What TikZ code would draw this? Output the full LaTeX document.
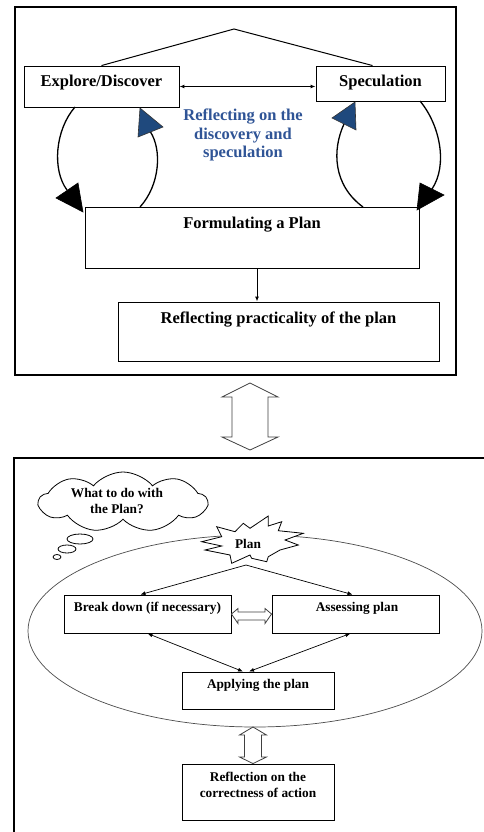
\documentclass[tikz,border=0pt]{standalone}
\usepackage{fontspec}
\setmainfont{Liberation Serif}
\usetikzlibrary{arrows.meta,shapes.symbols,calc}
\definecolor{refblue}{RGB}{47,84,150}
\definecolor{tipblue}{RGB}{31,73,125}
\newcommand\mytopfont{\fontsize{16.5}{18.5}\selectfont\bfseries}
\newcommand\mybotfont{\fontsize{13.3}{16}\selectfont\bfseries}
\begin{document}
\begin{tikzpicture}[x=1pt,y=-1pt,
 box/.style={draw, line width=0.9pt, inner sep=0pt},
 frameline/.style={line width=1.2pt},
 tt/.style={font=\mytopfont, inner sep=0pt, align=center},
 bt/.style={font=\mybotfont, inner sep=0pt, align=center},
 loopline/.style={line width=1.3pt},
 blackhead/.style={fill=black, draw=black, line width=0.6pt, line join=miter},
 bluehead/.style={fill=tipblue, draw=black!80, line width=0.6pt, line join=miter},
 thinline/.style={line width=0.7pt},
 smalltips/.style={{Latex[length=5pt,width=4pt]}-{Latex[length=5pt,width=4pt]}},
 smalltip/.style={-{Latex[length=5pt,width=4pt]}},
 hollow/.style={draw=black!75, line width=0.8pt, fill=white, line join=miter},
]
\useasboundingbox (0,0) rectangle (483,832);
\fill[white] (0,0) rectangle (483,832);

% ---------- top frame ----------
\draw[frameline] (15,7) rectangle (456,375);

\node[box, minimum width=155pt, minimum height=41pt] (explore) at (101.5,86.5) {};
\node[tt] (exploret) at (101.5,83) {Explore/Discover};
\node[box, minimum width=129pt, minimum height=35pt] (spec) at (380.5,83.5) {};
\node[tt] (spect) at (380.5,83) {Speculation};

\coordinate (apex) at (234,29);
\draw[line width=1pt] (explore.north) -- (apex) -- ([xshift=-8pt]spec.north);

\draw[line width=1pt, smalltips] (explore.east) -- (explore.east -| spec.west);

\node[tt, text=refblue] (refl) at (243,135) {Reflecting on the\\discovery and\\speculation};

\node[box, minimum width=334pt, minimum height=61pt] (form) at (252,237.5) {};
\node[tt] (formt) at (252,225) {Formulating a Plan};

\node[box, minimum width=321pt, minimum height=59pt] (prac) at (278.5,331.5) {};
\node[tt] (pract) at (278.5,320) {Reflecting practicality of the plan};

\draw[line width=1pt, smalltip] ([xshift=5pt]form.south) -- ([xshift=5pt]form.south |- prac.north);

% loops: curves ending at the base of large triangular heads
\coordinate (l1s) at (75,107);  \coordinate (l1e) at (67,190);
\coordinate (l2s) at (140,207); \coordinate (l2e) at (150.5,132);
\coordinate (r1s) at (363,207); \coordinate (r1e) at (344,124);
\coordinate (r2s) at (420,101); \coordinate (r2e) at (432,189);
\draw[loopline] (l1s) .. controls (55,130) and (52,170) .. (l1e);
\draw[loopline] (l2s) .. controls (160,185) and (162,150) .. (l2e);
\draw[loopline] (r1s) .. controls (333,185) and (332,150) .. (r1e);
\draw[loopline] (r2s) .. controls (440,125) and (448,165) .. (r2e);
\draw[blackhead] (83,212) -- (56,198) -- (78,183) -- cycle;
\draw[bluehead] (140,108) -- (138,137) -- (163,127) -- cycle;
\draw[bluehead] (355,102) -- (332,118) -- (356,130) -- cycle;
\draw[blackhead] (417,210) -- (420,183) -- (444,195) -- cycle;

% ---------- big hollow double arrow ----------
\draw[hollow] (250,383) -- (278,397) -- (268,397) -- (268,437) -- (278,437) -- (250,450)
  -- (222,437) -- (232,437) -- (232,397) -- (222,397) -- cycle;

% ---------- bottom frame ----------
\draw[frameline] (14,834) -- (14,458) -- (485,458);

\draw[thinline, draw=black!70] (255,631) ellipse [x radius=227, y radius=96];

% cloud
\node[cloud, draw, line width=0.8pt, cloud puffs=9, cloud puff arc=100, aspect=2.8,
  minimum width=168pt, minimum height=60pt, inner sep=0pt] (cloud) at (123,502) {};
\node[bt] (cloudt) at (117,501) {What to do with\\the Plan?};
\draw[line width=0.8pt] (80,539) ellipse [x radius=13, y radius=5];
\draw[line width=0.8pt] (67,549) ellipse [x radius=9, y radius=4];
\draw[line width=0.8pt] (57,557) ellipse [x radius=4, y radius=2.5];

% star
\draw[line width=0.8pt, fill=white] (216.7,526.7) -- (235,531.7) -- (243.3,523.3) -- (250,528.3)
  -- (268.3,516) -- (268.3,526) -- (281.7,521.7) -- (278.3,530.7) -- (303.3,533.3)
  -- (285,540) -- (298.3,545) -- (280,550) -- (268.3,556.7) -- (266.7,561.7)
  -- (251.7,558.3) -- (250,555) -- (231.7,563.3) -- (230,555) -- (205,550)
  -- (221.7,546) -- (201.7,541.7) -- (221.7,536.7) -- cycle;
\node[bt] (plan) at (248,544) {Plan};
\coordinate (starbot) at (246,565);

\node[box, minimum width=167pt, minimum height=38pt] (bd) at (147.5,614) {};
\node[bt] (bdt) at (147.5,608) {Break down (if necessary)};
\node[box, minimum width=167pt, minimum height=38pt] (as) at (355.5,614) {};
\node[bt] (ast) at (357,608) {Assessing plan};
\node[box, minimum width=152pt, minimum height=37pt] (ap) at (258,690.5) {};
\node[bt] (apt) at (258,685) {Applying the plan};
\node[box, minimum width=152pt, minimum height=56pt] (rc) at (258,792) {};
\node[bt] (rct) at (258,785) {Reflection on the\\correctness of action};

\draw[thinline, smalltip] (starbot) -- ([xshift=-7pt]bd.north);
\draw[thinline, smalltip] (starbot) -- ([xshift=-3pt]as.north);
\draw[thinline, smalltips] (bd.south) -- ([xshift=-15pt]ap.north);
\draw[thinline, smalltips] ([xshift=-5pt]as.south) -- ([xshift=-9pt]ap.north);

% small hollow double arrows
\draw[hollow] (bd.east) -- (238,608.5) -- (238,612) -- (265,612) -- (265,608.5) -- (as.west)
  -- (265,623.5) -- (265,620) -- (238,620) -- (238,623.5) -- cycle;
\draw[hollow] (253,727) -- (266.5,735) -- (261.5,735) -- (261.5,757) -- (266.5,757) -- (rc.north -| 253,0)
  -- (239.5,757) -- (244.5,757) -- (244.5,735) -- (239.5,735) -- cycle;
\end{tikzpicture}
\end{document}
